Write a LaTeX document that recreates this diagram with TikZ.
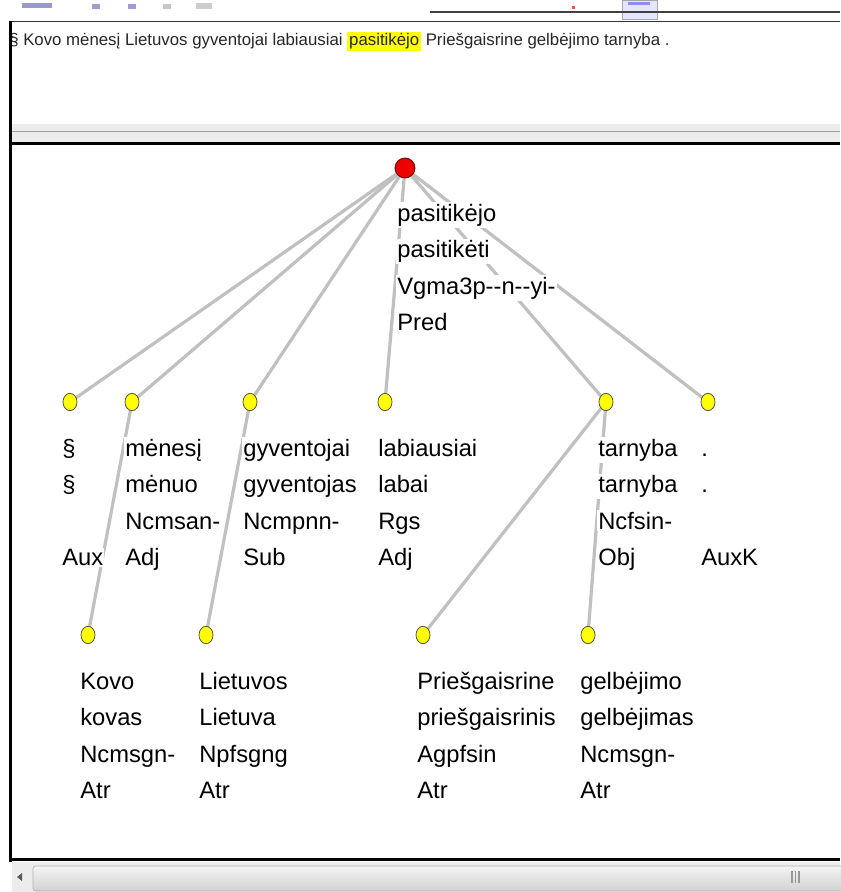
\documentclass[tikz,border=0pt]{standalone}
\usepackage{fontspec}
\setmainfont{Liberation Sans}
\usetikzlibrary{backgrounds,shapes.geometric}

\definecolor{edgegray}{HTML}{C0C0C0}
\definecolor{dotyellow}{HTML}{FFFF00}
\definecolor{rootred}{HTML}{EE0000}
\definecolor{panegray}{HTML}{ECECEC}
\definecolor{thumbtop}{HTML}{F4F4F4}
\definecolor{thumbbot}{HTML}{D2D2D2}

% yellow marker behind the selected word of the sentence
\newcommand\hlword[1]{{\setlength{\fboxsep}{1.4pt}\colorbox{dotyellow}{#1}}}

% one label = a stack of lines, each on its own white box
\newcommand\tokenlabel[4]{%
  \foreach \t [count=\i] in {#4} {%
    \ifx\t\empty\else
      \node[lbl] (#1-\i) at ({#2},{#3+(\i-1)*36.5}) {\t};
    \fi
  }%
}

\begin{document}
\begin{tikzpicture}[x=0.75pt,y=-0.75pt,
  lbl/.style={anchor=base west, fill=white, inner xsep=0.8pt, inner ysep=1.2pt,
              font=\fontsize{17.8}{20}\selectfont, text=black},
  leaf/.style={ellipse, draw=black!75!yellow, line width=0.6pt, fill=dotyellow,
               minimum width=10.5pt, minimum height=13pt, inner sep=0pt},
  rootdot/.style={circle, draw=black!60!red, line width=0.6pt, fill=rootred,
                  minimum size=15pt, inner sep=0pt},
  tree edge/.style={draw=edgegray, line width=2.4pt},
]
\useasboundingbox (0,0) rectangle (840,892);

% ---- window chrome ----
% toolbar remnants
\fill[blue!35!gray!60] (22,3) rectangle (52,8);
\fill[blue!40!gray!55] (92,4) rectangle (100,9);
\fill[blue!40!gray!55] (128,4) rectangle (136,9);
\fill[gray!45] (163,4) rectangle (171,9);
\fill[gray!40] (196,3) rectangle (212,9);
\fill[red!70] (572,6) rectangle (575,9);
\draw[gray!70, line width=0.6pt, fill=blue!10] (622,0) rectangle (657,19);
\fill[blue!45] (628,2) rectangle (650,5);
\draw[black!75, line width=0.9pt] (430,12) -- (840,12);
\draw[black!80, line width=1.3pt] (10,21.5) -- (840,21.5);

% sentence pane
\node[anchor=base west, inner sep=0pt, font=\fontsize{12.6}{14}\selectfont, text=black!85]
  (sentence) at (9,46)
  {§ Kovo mėnesį Lietuvos gyventojai labiausiai \hlword{pasitikėjo} Priešgaisrine gelbėjimo tarnyba .};

% splitter between the panes
\fill[panegray] (12,124) rectangle (840,142);
\draw[gray!75, line width=1.3pt] (12,131.5) -- (840,131.5);
\draw[black, line width=2.4pt] (10,143.5) -- (840,143.5);

% tree pane borders
\draw[black, line width=2.6pt] (10.5,21) -- (10.5,862);
\draw[black, line width=2.4pt] (10,859.5) -- (840,859.5);

% horizontal scroll bar
\fill[panegray] (12,861.5) rectangle (840,892);
\shade[top color=thumbtop, bottom color=thumbbot, rounded corners=2pt]
  (33,866) rectangle (845,891);
\draw[gray!60, line width=0.5pt, rounded corners=2pt] (33,866) rectangle (845,891);
\fill[black!65] (17,877) -- (22,873) -- (22,881) -- cycle;
\foreach \gx in {792,795.5,799} \draw[gray!80, line width=1pt] (\gx,871) -- (\gx,883);

% ---- dependency tree ----
\node[rootdot] (pred) at (405,168) {};

\node[leaf] (sec) at (70,402) {};
\node[leaf] (men) at (132,402) {};
\node[leaf] (gyv) at (250,402) {};
\node[leaf] (lab) at (385,402) {};
\node[leaf] (tar) at (606,402) {};
\node[leaf] (dot) at (708,402) {};

\node[leaf] (kov) at (88,635) {};
\node[leaf] (lie) at (206,635) {};
\node[leaf] (pri) at (423,635) {};
\node[leaf] (gel) at (588,635) {};

% node labels: form, lemma, tag, function
\tokenlabel{lpred}{396}{221}{pasitikėjo,pasitikėti,Vgma3p-{}-n-{}-yi-,Pred}
\tokenlabel{lsec}{61}{456}{§,§,,Aux}
\tokenlabel{lmen}{124}{456}{mėnesį,mėnuo,Ncmsan-,Adj}
\tokenlabel{lgyv}{242}{456}{gyventojai,gyventojas,Ncmpnn-,Sub}
\tokenlabel{llab}{377}{456}{labiausiai,labai,Rgs,Adj}
\tokenlabel{ltar}{597}{456}{tarnyba,tarnyba,Ncfsin-,Obj}
\tokenlabel{ldot}{700}{456}{.,.,,AuxK}
\tokenlabel{lkov}{79}{689}{Kovo,kovas,Ncmsgn-,Atr}
\tokenlabel{llie}{198}{689}{Lietuvos,Lietuva,Npfsgng,Atr}
\tokenlabel{lpri}{416}{689}{Priešgaisrine,priešgaisrinis,Agpfsin,Atr}
\tokenlabel{lgel}{579}{689}{gelbėjimo,gelbėjimas,Ncmsgn-,Atr}

% edges run underneath the labels and the dots
\begin{pgfonlayer}{background}
  \fill[white] (0,0) rectangle (840,892);
  \foreach \c in {sec,men,gyv,lab,tar,dot}
    \path[tree edge] (pred.center) -- (\c.center);
  \path[tree edge] (men.center) -- (kov.center);
  \path[tree edge] (gyv.center) -- (lie.center);
  \path[tree edge] (tar.center) -- (pri.center);
  \path[tree edge] (tar.center) -- (gel.center);
\end{pgfonlayer}
\end{tikzpicture}
\end{document}
